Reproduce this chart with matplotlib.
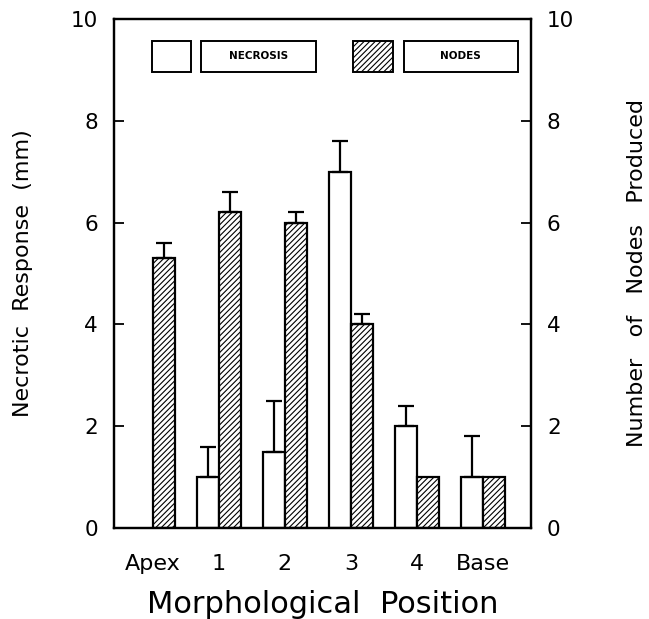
import matplotlib
matplotlib.use("Agg")
import matplotlib.pyplot as plt
import numpy as np
from matplotlib.patches import Rectangle

plt.rcParams['font.family'] = ['DejaVu Sans']
plt.rcParams['hatch.linewidth'] = 0.8

categories = ["Apex", "1", "2", "3", "4", "Base"]
necrosis = [0.0, 1.0, 1.5, 7.0, 2.0, 1.0]
necrosis_err = [0.0, 0.6, 1.0, 0.6, 0.4, 0.8]
nodes = [5.3, 6.2, 6.0, 4.0, 1.0, 1.0]
nodes_err = [0.3, 0.4, 0.2, 0.2, 0.0, 0.0]
yticks = [0, 2, 4, 6, 8, 10]

W, H = 649, 619
fig = plt.figure(figsize=(W / 100, H / 100), dpi=100)
ax = fig.add_axes([114 / W, 1 - 528 / H, (531 - 114) / W, (528 - 19) / H])

x = np.arange(len(categories))
bw = 0.335
lw = 1.6

nec_mask = np.array(necrosis) > 0
ax.bar(x[nec_mask] - bw / 2, np.array(necrosis)[nec_mask], bw, facecolor='white',
       edgecolor='black', linewidth=lw, zorder=2)
ax.bar(x + bw / 2, nodes, bw, facecolor='white', edgecolor='black', hatch='//////',
       linewidth=lw, zorder=2)

for xi, v, e in zip(x - bw / 2, necrosis, necrosis_err):
    if e > 0:
        ax.errorbar(xi, v, yerr=[[0], [e]], fmt='none', ecolor='black', elinewidth=1.6,
                    capsize=6, capthick=1.6, zorder=3)
for xi, v, e in zip(x + bw / 2, nodes, nodes_err):
    if e > 0:
        ax.errorbar(xi, v, yerr=[[0], [e]], fmt='none', ecolor='black', elinewidth=1.6,
                    capsize=6, capthick=1.6, zorder=3)

ax.set_xlim(-0.59, 5.73)
ax.set_ylim(0, 10)
ax.set_yticks(yticks)
ax.set_yticklabels([str(t) for t in yticks], fontsize=15.5)
ax.set_xticks(x)
ax.set_xticklabels(categories, fontsize=16)
ax.tick_params(axis='x', length=0, pad=19)
ax.tick_params(axis='y', direction='in', length=7, width=1.3, pad=11.5)
for s in ax.spines.values():
    s.set_linewidth(1.6)

ax.set_xlabel("Morphological  Position", fontsize=22, labelpad=11)
ax.set_ylabel("Necrotic  Response  (mm)", fontsize=16, labelpad=27)

ax2 = ax.twinx()
ax2.set_ylim(0, 10)
ax2.set_yticks(yticks)
ax2.set_yticklabels([str(t) for t in yticks], fontsize=15.5)
ax2.tick_params(axis='y', direction='in', length=7, width=1.3, pad=11.5)
ax2.set_ylabel("Number   of   Nodes   Produced", fontsize=16, labelpad=38)
for s in ax2.spines.values():
    s.set_linewidth(1.6)

# legend drawn as boxes in axes coordinates
ly, lh = 0.896, 0.061
t = ax.transAxes
ax.add_patch(Rectangle((0.091, ly), 0.094, lh, transform=t, facecolor='white',
                       edgecolor='black', linewidth=1.4, zorder=4))
ax.add_patch(Rectangle((0.209, ly), 0.276, lh, transform=t, facecolor='white',
                       edgecolor='black', linewidth=1.4, zorder=4))
ax.text(0.209 + 0.138, ly + lh / 2, "NECROSIS", transform=t, ha='center', va='center',
        fontsize=7.5, fontweight='bold', zorder=5)
ax.add_patch(Rectangle((0.573, ly), 0.096, lh, transform=t, facecolor='white',
                       edgecolor='black', hatch='//////', linewidth=1.4, zorder=4))
ax.add_patch(Rectangle((0.695, ly), 0.273, lh, transform=t, facecolor='white',
                       edgecolor='black', linewidth=1.4, zorder=4))
ax.text(0.695 + 0.1365, ly + lh / 2, "NODES", transform=t, ha='center', va='center',
        fontsize=7.5, fontweight='bold', zorder=5)

fig.savefig("out.png", dpi=100)
